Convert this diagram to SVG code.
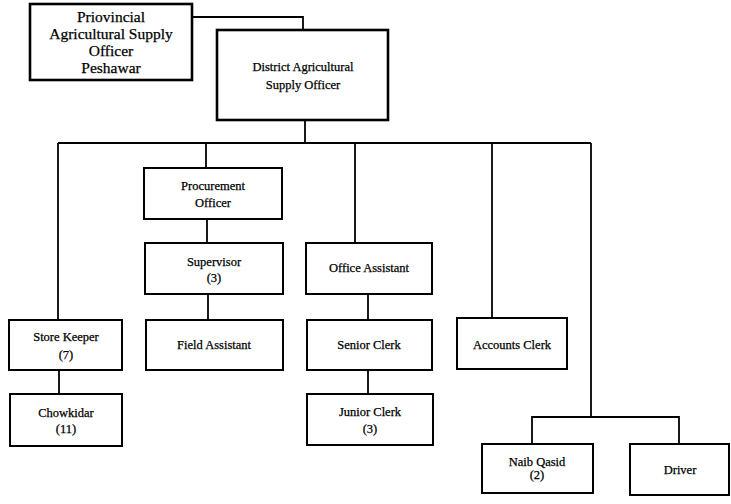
<svg xmlns="http://www.w3.org/2000/svg" width="731" height="504" viewBox="0 0 731 504">
  <style>
    .box { fill: #fff; stroke: #000; stroke-width: 2; }
    .box.heavy { stroke-width: 2.6; }
    .wire { fill: none; stroke: #000; stroke-width: 1.8; }
    text { font-family: "Liberation Serif", "Times New Roman", serif; fill: #000; text-anchor: middle; }
    .t { font-size: 12.5px; stroke: #000; stroke-width: 0.25; }
    .big { font-size: 15.5px; stroke: #000; stroke-width: 0.25; }
  </style>
  <rect width="731" height="504" fill="#fff"/>

  <g id="connectors">
    <polyline class="wire" points="192,17 303,17 303,30"/>
    <line class="wire" x1="305" y1="120" x2="305" y2="143"/>
    <line class="wire" x1="58" y1="143" x2="591" y2="143"/>
    <line class="wire" x1="58" y1="143" x2="58" y2="320"/>
    <line class="wire" x1="206" y1="143" x2="206" y2="168"/>
    <line class="wire" x1="355" y1="143" x2="355" y2="243"/>
    <line class="wire" x1="492" y1="143" x2="492" y2="318"/>
    <line class="wire" x1="591" y1="143" x2="591" y2="417"/>
    <line class="wire" x1="207" y1="219" x2="207" y2="243"/>
    <line class="wire" x1="208" y1="294" x2="208" y2="320"/>
    <line class="wire" x1="368" y1="294" x2="368" y2="320"/>
    <line class="wire" x1="368" y1="370" x2="368" y2="394"/>
    <line class="wire" x1="59" y1="370" x2="59" y2="394"/>
    <polyline class="wire" points="532,444 532,417 679,417 679,444"/>
  </g>

  <g id="provincial-officer">
    <rect class="box heavy" x="30" y="4" width="162" height="76"/>
    <text class="big" x="111" y="22">Priovincial</text>
    <text class="big" x="111" y="39">Agricultural Supply</text>
    <text class="big" x="111" y="56">Officer</text>
    <text class="big" x="111" y="73">Peshawar</text>
  </g>

  <g id="district-officer">
    <rect class="box heavy" x="217" y="30" width="171" height="90"/>
    <text class="t" x="303" y="71">District Agricultural</text>
    <text class="t" x="303" y="89">Supply Officer</text>
  </g>

  <g id="procurement-officer">
    <rect class="box" x="144" y="168" width="138" height="51"/>
    <text class="t" x="213" y="190">Procurement</text>
    <text class="t" x="213" y="207">Officer</text>
  </g>

  <g id="supervisor">
    <rect class="box" x="145" y="243" width="138" height="51"/>
    <text class="t" x="214" y="266">Supervisor</text>
    <text class="t" x="214" y="282">(3)</text>
  </g>

  <g id="field-assistant">
    <rect class="box" x="146" y="320" width="137" height="50"/>
    <text class="t" x="214" y="349">Field Assistant</text>
  </g>

  <g id="store-keeper">
    <rect class="box" x="9" y="320" width="113" height="50"/>
    <text class="t" x="66" y="341">Store Keeper</text>
    <text class="t" x="66" y="359">(7)</text>
  </g>

  <g id="chowkidar">
    <rect class="box" x="10" y="394" width="112" height="52"/>
    <text class="t" x="66" y="417">Chowkidar</text>
    <text class="t" x="66" y="433">(11)</text>
  </g>

  <g id="office-assistant">
    <rect class="box" x="306" y="243" width="126" height="51"/>
    <text class="t" x="369" y="272">Office Assistant</text>
  </g>

  <g id="senior-clerk">
    <rect class="box" x="307" y="320" width="125" height="50"/>
    <text class="t" x="369" y="349">Senior Clerk</text>
  </g>

  <g id="junior-clerk">
    <rect class="box" x="307" y="394" width="126" height="51"/>
    <text class="t" x="370" y="416">Junior Clerk</text>
    <text class="t" x="370" y="433">(3)</text>
  </g>

  <g id="accounts-clerk">
    <rect class="box" x="457" y="318" width="110" height="51"/>
    <text class="t" x="512" y="349">Accounts Clerk</text>
  </g>

  <g id="naib-qasid">
    <rect class="box" x="482" y="444" width="111" height="49"/>
    <text class="t" x="537" y="466">Naib Qasid</text>
    <text class="t" x="537" y="479">(2)</text>
  </g>

  <g id="driver">
    <rect class="box" x="630" y="444" width="99" height="51"/>
    <text class="t" x="680" y="474">Driver</text>
  </g>
</svg>
